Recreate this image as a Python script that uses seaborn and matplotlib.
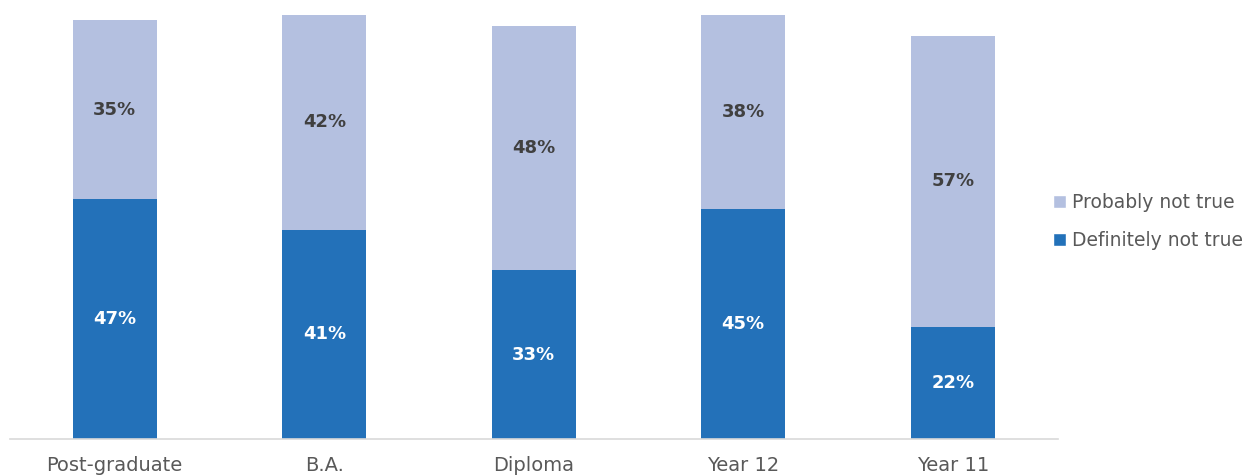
import matplotlib
matplotlib.use("Agg")
import matplotlib.pyplot as plt
import seaborn as sns
import pandas as pd
from matplotlib.patches import Patch

categories = ["Post-graduate", "B.A.", "Diploma", "Year 12", "Year 11"]
definitely = [47, 41, 33, 45, 22]
probably = [35, 42, 48, 38, 57]

DARK = "#2371b9"
LIGHT = "#b4c0e0"

df = pd.DataFrame({"cat": categories, "def": definitely, "prob": probably})
df["total"] = df["def"] + df["prob"]

sns.set_style("white")
plt.rcParams["font.family"] = ["DejaVu Sans"]

fig = plt.figure(figsize=(12.5, 4.76), dpi=100)
ax = fig.add_axes([0.008, 0.078, 0.838, 0.922])

sns.barplot(data=df, x="cat", y="total", color=LIGHT, width=0.4, saturation=1,
            linewidth=0, ax=ax)
sns.barplot(data=df, x="cat", y="def", color=DARK, width=0.4, saturation=1,
            linewidth=0, ax=ax)

for i, (d, p) in enumerate(zip(definitely, probably)):
    ax.text(i, d / 2, f"{d}%", ha="center", va="center", color="white",
            fontsize=13, fontweight="bold")
    ax.text(i, d + p / 2, f"{p}%", ha="center", va="center", color="#404040",
            fontsize=13, fontweight="bold")

ax.set_xlim(-0.5, 4.5)
ax.set_ylim(0, 86)
ax.set_xlabel("")
ax.set_ylabel("")
ax.set_yticks([])
ax.tick_params(axis="x", length=0, labelsize=14, labelcolor="#595959", pad=12)
for s in ["top", "right", "left"]:
    ax.spines[s].set_visible(False)
ax.spines["bottom"].set_color("#d9d9d9")
ax.spines["bottom"].set_linewidth(1.2)

handles = [Patch(facecolor=LIGHT, label="Probably not true"),
           Patch(facecolor=DARK, label="Definitely not true")]
leg = fig.legend(handles=handles, loc="center left", bbox_to_anchor=(0.829, 0.535),
                 frameon=False, fontsize=13.5, handlelength=0.7, handleheight=0.7,
                 handletextpad=0.3, labelspacing=1.0, labelcolor="#595959")

fig.savefig("out.png", dpi=100)
